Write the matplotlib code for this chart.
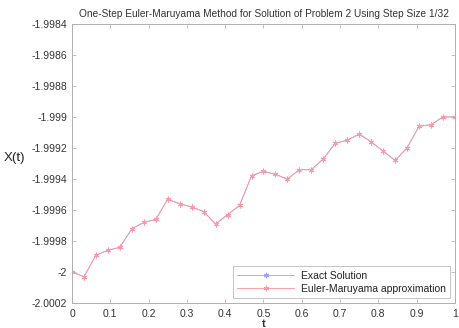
import numpy as np
import matplotlib
matplotlib.use('Agg')
import matplotlib.pyplot as plt

plt.rcParams['font.family'] = ['Liberation Sans', 'DejaVu Sans']

# time grid, step 1/32
t = [k / 32 for k in range(33)]

# Euler-Maruyama approximation
x_em = [-2.00000, -2.00003, -1.99989, -1.99986, -1.99984, -1.99972, -1.99968,
        -1.99966, -1.99953, -1.99956, -1.99958, -1.99961, -1.99969, -1.99963,
        -1.99957, -1.99938, -1.99935, -1.99937, -1.99940, -1.99934, -1.99934,
        -1.99927, -1.99917, -1.99915, -1.99911, -1.99916, -1.99922, -1.99928,
        -1.99920, -1.99906, -1.99905, -1.99900, -1.99900]

# exact solution sits underneath the approximation
x_exact = list(x_em)

yticks = [-2.0002, -2.0, -1.9998, -1.9996, -1.9994, -1.9992, -1.999,
          -1.9988, -1.9986, -1.9984]
ytick_labels = ['-2.0002', '-2', '-1.9998', '-1.9996', '-1.9994', '-1.9992',
                '-1.999', '-1.9988', '-1.9986', '-1.9984']
xticks = [0, 0.1, 0.2, 0.3, 0.4, 0.5, 0.6, 0.7, 0.8, 0.9, 1]
xtick_labels = ['0', '0.1', '0.2', '0.3', '0.4', '0.5', '0.6', '0.7', '0.8', '0.9', '1']

fig = plt.figure(figsize=(4.59, 3.28), dpi=100)
ax = fig.add_axes([0.157, 0.076, 0.834, 0.851])

star = (6, 2, 0)  # matlab-like asterisk
ax.plot(t, x_exact, '-', marker=star, color='#a0a0ff', lw=0.6, ms=4, mew=0.6,
        label='Exact Solution')
ax.plot(t, x_em, '-', marker=star, color='#ff98a4', lw=0.65, ms=4, mew=0.6,
        label='Euler-Maruyama approximation')

ax.set_xlim(0, 1)
ax.set_ylim(-2.0002, -1.9984)
ax.set_xticks(xticks)
ax.set_xticklabels(xtick_labels)
ax.set_yticks(yticks)
ax.set_yticklabels(ytick_labels)
ax.tick_params(direction='in', length=3, width=0.5, colors='#aaaaaa',
               labelcolor='#333333', labelsize=7.5, top=True, right=True)
ax.tick_params(axis='x', pad=4)
for s in ax.spines.values():
    s.set_color('#b0b0b0')
    s.set_linewidth(0.7)

ax.set_title('One-Step Euler-Maruyama Method for Solution of Problem 2 Using Step Size 1/32',
             fontsize=7.3, color='#333333', pad=5)
ax.set_xlabel('t', fontsize=8, fontweight='bold', color='#333333', labelpad=0)
ax.set_ylabel('X(t)', fontsize=9.5, color='#222222', rotation=0, labelpad=12)

leg = ax.legend(loc='lower right', fontsize=7.5, frameon=True, fancybox=False,
                borderaxespad=0.5, handlelength=5.5, labelspacing=0.3,
                borderpad=0.4, handletextpad=0.6)
leg.get_frame().set_edgecolor('#aaaaaa')
leg.get_frame().set_linewidth(0.6)
for txt in leg.get_texts():
    txt.set_color('#222222')

fig.savefig('out.png', dpi=100)
